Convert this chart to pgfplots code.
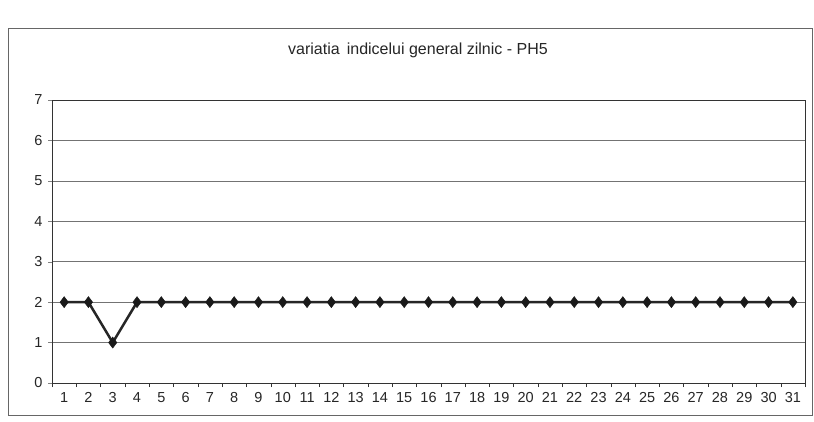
\documentclass[border=0pt]{standalone}
\usepackage{pgfplots}
\pgfplotsset{compat=1.18}
\usepackage{fontspec}
\setmainfont{Liberation Sans}
\begin{document}
\begin{tikzpicture}[x=1pt,y=1pt]
\fill[white] (-52,-38) rectangle (762,383);
\draw[black!60, line width=0.8pt] (-44,-32) rectangle (760,355);
\node[font=\fontsize{16}{18}\selectfont, text=black!85] at (366,333) {variatia\, indicelui general zilnic - PH5};
\begin{axis}[
  at={(0,0)}, anchor=south west,
  scale only axis, width=753pt, height=283pt,
  xmin=0.5, xmax=31.5, ymin=0, ymax=7,
  xtick={1,...,31}, major x tick style={draw=none},
  minor xtick={0.5,1.5,...,31.5},
  minor x tick style={black!80},
  ytick={0,...,7},
  ymajorgrids, grid style={black!55, line width=0.6pt},
  tick align=outside, tick pos=left,
  minor tick length=4pt, major tick length=4pt,
  axis line style={black!80, line width=0.8pt},
  /pgf/number format/assume math mode=true,
  ticklabel style={font=\fontsize{14.5}{16}\selectfont, text=black!85},
  xticklabel style={yshift=-2pt},
  yticklabel style={xshift=-2pt},
]
\addplot[black!85, line width=2.5pt, mark=diamond*, mark size=5.5pt, mark options={fill=black!90, draw=black!90, line width=0.5pt}]
coordinates {(1,2)(2,2)(3,1)(4,2)(5,2)(6,2)(7,2)(8,2)(9,2)(10,2)(11,2)(12,2)(13,2)(14,2)(15,2)(16,2)(17,2)(18,2)(19,2)(20,2)(21,2)(22,2)(23,2)(24,2)(25,2)(26,2)(27,2)(28,2)(29,2)(30,2)(31,2)};
\end{axis}
\end{tikzpicture}
\end{document}
